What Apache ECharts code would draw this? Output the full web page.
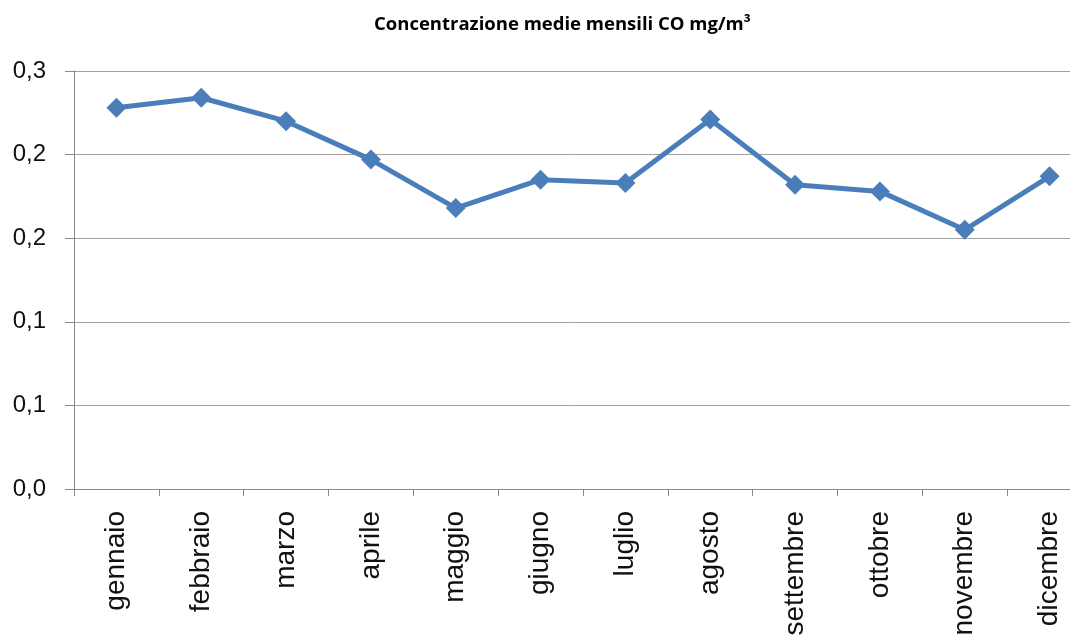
<!DOCTYPE html>
<html>
<head>
<meta charset="utf-8">
<script src="https://cdn.jsdelivr.net/npm/echarts@6/dist/echarts.min.js"></script>
<style>
    html, body { margin: 0; padding: 0; background: #fff; overflow: hidden; }
    #chart { width: 1070px; height: 635px; }
</style>
</head>
<body>
<div id="chart"></div>
<script>
const mesi = ['gennaio', 'febbraio', 'marzo', 'aprile', 'maggio', 'giugno', 'luglio', 'agosto', 'settembre', 'ottobre', 'novembre', 'dicembre']
const concentrazioneCO = [0.228, 0.234, 0.220, 0.197, 0.168, 0.185, 0.183, 0.221, 0.182, 0.178, 0.155, 0.187]
// Excel rounds the 0.05 steps to one decimal
const yLabels = ['0,0', '0,1', '0,1', '0,2', '0,2', '0,3']

const chart = echarts.init(document.getElementById('chart'))

const option = {
    animation: false,
    title: {
        text: 'Concentrazione medie mensili CO mg/m³',
        left: 369,
        top: 10,
        textStyle: {
            fontFamily: 'Open Sans',
            fontWeight: 'bold',
            fontSize: 18.5,
            color: '#000'
        }
    },
    // the original picture is cut off on the right, so the plot runs past the edge
    grid: {
        left: 74,
        top: 71,
        width: 1018,
        height: 418,
        outerBoundsMode: 'none'
    },
    xAxis: {
        type: 'category',
        data: mesi,
        boundaryGap: true,
        axisLine: { lineStyle: { color: '#888', width: 1 } },
        axisTick: { show: true, length: 7, lineStyle: { color: '#888' } },
        axisLabel: {
            rotate: 90,
            fontSize: 28,
            margin: 22,
            color: '#111',
            fontFamily: 'Liberation Sans'
        }
    },
    yAxis: {
        type: 'value',
        min: 0,
        max: 0.25,
        interval: 0.05,
        axisLine: { show: true, lineStyle: { color: '#888', width: 1 } },
        axisTick: { show: true, length: 9, lineStyle: { color: '#888' } },
        splitLine: { lineStyle: { color: '#a0a0a0', width: 1 } },
        axisLabel: {
            fontSize: 24,
            margin: 28,
            color: '#111',
            fontFamily: 'Liberation Sans',
            formatter: (v) => yLabels[Math.round(v / 0.05)]
        }
    },
    series: [{
        type: 'line',
        data: concentrazioneCO,
        symbol: 'diamond',
        symbolSize: 20,
        lineStyle: { color: '#4a7ebb', width: 5 },
        itemStyle: { color: '#4a7ebb' }
    }]
}

chart.setOption(option)
</script>
</body>
</html>
